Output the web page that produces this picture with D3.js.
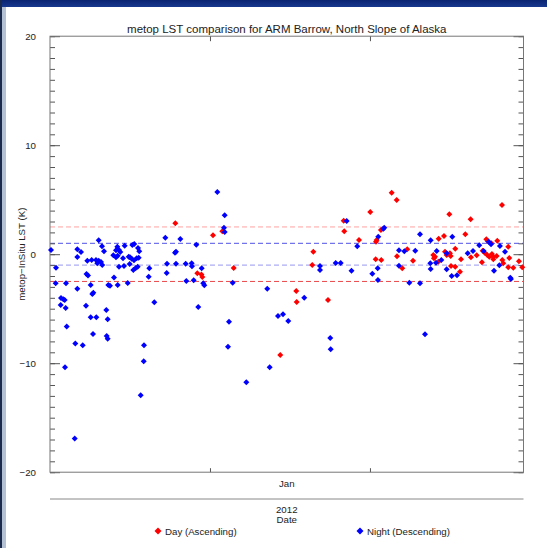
<!DOCTYPE html>
<html>
<head>
<meta charset="utf-8">
<script src="https://cdn.jsdelivr.net/npm/d3@7"></script>
<style>
  html, body { margin: 0; padding: 0; background: #fff; }
  svg { display: block; }
  text { font-family: "Liberation Sans", Arial, sans-serif; fill: #222; }
</style>
</head>
<body>
<svg id="chart" width="547" height="548"></svg>
<script>
// Title and axis text
const titleText = "metop LST comparison for ARM Barrow, North Slope of Alaska";
const yAxisTitle = "metop\u2212InSitu LST (K)";
const xAxisTitle = "Date";
const monthLabel = "Jan";
const yearLabel = "2012";
const seriesNames = ["Day (Ascending)", "Night (Descending)"];
const seriesColors = ["#ff0000", "#0000ff"];

// Time axis: days counted from 1 Dec 2011 (UTC)
const periodStart = Date.UTC(2011, 11, 1);
const periodLengthDays = 91.75;
const monthTicks = [new Date(Date.UTC(2012, 0, 1)), new Date(Date.UTC(2012, 1, 1))];

// Y axis
const yDomain = [-20, 20];
const yMajorTicks = [-20, -10, 0, 10, 20];
const yMinorTicks = d3.range(-20, 21, 1);

// Reference bands (K) and their line colours
const refLevels = [2.5, 1, -1, -2.5];
const refColors = ["#ffa0a0", "#5050e8", "#9898f0", "#e84848"];

// Daytime (ascending) overpasses: day offset, LST difference (K)
const dayDays = [24.28, 28.54, 29.35, 29.51, 31.58, 33.39, 35.59, 44.62, 47.72, 47.80,
  51.02, 50.82, 53.87, 56.91, 57.02, 59.87, 62.06, 63.30, 63.17, 63.11,
  64.19, 64.13, 66.21, 67.18, 67.24, 68.26, 69.23, 70.34, 74.27, 74.60,
  74.40, 75.24, 75.32, 76.34, 76.54, 76.86, 77.50, 77.64, 77.37, 77.70,
  78.53, 78.53, 79.44, 79.64, 80.47, 81.51, 81.57, 82.68, 83.70, 83.84,
  84.23, 84.54, 84.81, 84.73, 85.12, 85.64, 85.51, 85.90, 86.55, 85.90,
  86.67, 87.58, 87.64, 87.83, 88.80, 88.99, 88.80, 89.77, 90.87, 91.51];
const dayDiff = [2.83, -1.75, -1.86, -2.09, 1.73, 2.10, -1.27, -9.25, -3.38, -4.39,
  0.23, -0.99, -4.20, 3.07, 2.10, 1.30, 3.87, 1.30, 1.15, -0.47,
  -0.53, 2.22, 5.64, 4.97, -0.19, -1.29, 0.45, -0.60, -0.07, -0.23,
  -0.38, -0.69, 1.42, 1.67, 0.23, -0.07, 0.08, -0.17, 3.66, -1.08,
  -1.15, 0.50, -1.61, -0.47, 1.83, 3.20, -0.28, -0.10, -0.74, 0.32,
  0.14, 1.37, 1.21, -0.07, -0.23, 0.02, 1.00, -0.23, -0.17, -0.47,
  1.24, 4.51, -0.53, -0.83, 0.69, -0.35, -1.20, -1.24, -0.65, -1.20];

// Night-time (descending) overpasses: day offset, LST difference (K)
const nightDays = [0.19, 1.16, 1.10, 3.10, 2.13, 2.58, 2.85, 2.07, 3.04, 3.24,
  2.91, 4.79, 5.29, 6.01, 5.29, 5.29, 4.90, 6.34, 6.98, 7.07,
  7.36, 7.23, 8.08, 7.89, 8.20, 8.39, 7.89, 8.97, 8.33, 9.44,
  10.08, 10.46, 8.91, 9.44, 9.88, 10.13, 9.16, 11.30, 11.63, 10.91,
  11.18, 10.99, 11.18, 12.40, 13.04, 13.37, 12.79, 13.62, 12.27, 12.79,
  13.12, 14.14, 13.37, 14.34, 13.12, 14.47, 15.25, 15.50, 15.83, 15.44,
  15.95, 16.33, 17.05, 17.30, 16.28, 16.80, 17.19, 16.14, 16.61, 16.99,
  15.06, 19.24, 19.12, 17.57, 18.21, 18.16, 20.21, 22.34, 22.67, 22.61,
  24.22, 24.41, 24.41, 25.25, 26.29, 27.46, 27.51, 26.41, 27.84, 28.35,
  29.39, 29.70, 29.90, 28.73, 32.42, 33.85, 33.71, 33.85, 34.68, 34.49,
  35.40, 38.04, 42.10, 42.57, 44.18, 45.15, 46.17, 49.27, 52.32, 52.32,
  54.31, 54.39, 55.36, 56.33, 57.49, 58.42, 59.54, 64.58, 64.77, 63.61,
  62.45, 63.50, 63.55, 67.62, 68.65, 67.62, 69.62, 70.78, 71.69, 71.69,
  72.66, 73.76, 73.69, 73.76, 74.79, 74.93, 75.82, 76.86, 76.86, 77.83,
  78.86, 77.95, 80.93, 81.96, 83.18, 84.03, 85.00, 85.45, 86.03, 87.19,
  87.06, 88.16, 89.19, 89.32];
const nightDiff = [0.39, -1.24, -2.67, -2.67, -4.02, -4.14, -4.20, -4.66, -4.94, -6.63,
  -10.38, -16.91, 0.45, 0.20, -0.26, -3.17, -8.20, -8.36, -4.72, -1.82,
  -1.95, -0.60, -0.53, -2.83, -3.65, -3.53, -5.79, -5.79, -7.32, 1.28,
  0.72, 0.27, -0.53, -0.60, -0.72, -0.99, -0.83, -2.83, -2.89, -5.12,
  -5.97, -7.50, -7.75, -2.14, 0.69, 0.39, 0.36, 0.20, -0.10, -0.28,
  -0.14, -0.38, -1.15, -1.08, -2.83, 0.78, -0.23, -0.28, -0.41, -0.90,
  0.84, 0.94, 0.57, 0.27, -0.56, -0.38, -0.32, -1.45, -1.27, -1.15,
  -2.64, -1.29, -2.06, -12.94, -8.36, -9.83, -4.41, 1.51, -0.87, -1.72,
  0.14, 0.23, -0.87, 1.39, -0.87, -0.83, -1.11, -2.46, -2.39, 0.87,
  -1.29, -2.67, -2.85, -4.84, 5.71, 3.57, 2.43, 2.04, -6.19, -8.49,
  -2.61, -11.75, -3.17, -10.38, -5.67, -5.50, -6.13, -3.99, -1.08, -1.45,
  -7.69, -8.72, -0.81, -0.81, 3.05, -1.51, 0.72, 2.34, 2.43, 1.61,
  -1.79, -1.29, -2.37, 0.36, 0.27, -1.06, -2.61, 0.32, 1.83, -2.67,
  -7.35, 1.28, -0.83, -1.36, -0.78, 0.29, -0.53, -1.39, 0.08, -2.00,
  -1.94, 1.61, 0.08, 0.29, 0.82, 0.29, 1.15, 0.91, -1.51, 0.75,
  -1.02, 0.23, -2.16, -2.28];

const toDate = d => new Date(periodStart + d * 864e5);

const svg = d3.select("#chart");

// Window chrome around the plot
const chrome = svg.append("defs").append("linearGradient")
  .attr("id", "barGrad").attr("x1", 0).attr("y1", 0).attr("x2", 0).attr("y2", 1);
chrome.append("stop").attr("offset", "0%").attr("stop-color", "#0a2470");
chrome.append("stop").attr("offset", "100%").attr("stop-color", "#17388f");
svg.append("rect").attr("x", 0).attr("y", 0).attr("width", 547).attr("height", 7).attr("fill", "url(#barGrad)");
svg.append("rect").attr("x", 0).attr("y", 0).attr("width", 2).attr("height", 548).attr("fill", "#1b2b4e");
svg.append("rect").attr("x", 2).attr("y", 7).attr("width", 4).attr("height", 541).attr("fill", "#b4c0d4");

const plot = { left: 50, right: 523.5, top: 36.2, bottom: 472.2 };

const x = d3.scaleTime()
  .domain([toDate(0), toDate(periodLengthDays)])
  .range([plot.left, plot.right]);
const y = d3.scaleLinear().domain(yDomain).range([plot.bottom, plot.top]);

// Title
svg.append("text")
  .attr("x", (plot.left + plot.right) / 2).attr("y", 32.5)
  .attr("text-anchor", "middle").style("font-size", "11.5px")
  .text(titleText);

// Reference dashed lines
svg.append("g").selectAll("line").data(refLevels).join("line")
  .attr("x1", plot.left).attr("x2", plot.right)
  .attr("y1", d => y(d)).attr("y2", d => y(d))
  .attr("stroke", (d, i) => refColors[i]).attr("stroke-width", 1)
  .attr("stroke-dasharray", "5,3");

// Y axes (left and mirrored right), minor every 1 K, major every 10 K
const leftMinor = d3.axisLeft(y).tickValues(yMinorTicks).tickSize(-5).tickFormat("");
const leftMajor = d3.axisLeft(y).tickValues(yMajorTicks).tickSize(-10).tickPadding(14)
  .tickFormat(d => d < 0 ? "\u2212" + Math.abs(d) : d);
const rightMinor = d3.axisRight(y).tickValues(yMinorTicks).tickSize(-5).tickFormat("");
const rightMajor = d3.axisRight(y).tickValues(yMajorTicks).tickSize(-10).tickFormat("");

function styleAxis(g) {
  g.select(".domain").remove();
  g.selectAll(".tick line").attr("stroke", "#555");
  g.selectAll(".tick text").style("font-size", "9.7px").attr("fill", "#222")
    .style("font-family", "'Liberation Sans', Arial, sans-serif");
}
svg.append("g").attr("transform", `translate(${plot.left},0)`).call(leftMinor).call(styleAxis);
svg.append("g").attr("transform", `translate(${plot.left},0)`).call(leftMajor).call(styleAxis);
svg.append("g").attr("transform", `translate(${plot.right},0)`).call(rightMinor).call(styleAxis);
svg.append("g").attr("transform", `translate(${plot.right},0)`).call(rightMajor).call(styleAxis);

// X axes: month boundaries on bottom and top
const xBottom = d3.axisBottom(x).tickValues(monthTicks).tickSize(-4).tickFormat("");
const xTop = d3.axisTop(x).tickValues(monthTicks).tickSize(-5).tickFormat("");
svg.append("g").attr("transform", `translate(0,${plot.bottom})`).call(xBottom).call(styleAxis);
svg.append("g").attr("transform", `translate(0,${plot.top})`).call(xTop).call(styleAxis);

// Plot frame
svg.append("rect")
  .attr("x", plot.left).attr("y", plot.top)
  .attr("width", plot.right - plot.left).attr("height", plot.bottom - plot.top)
  .attr("fill", "none").attr("stroke", "#777").attr("stroke-width", 1);

// Month and year labels
const xMid = (plot.left + plot.right) / 2;
svg.append("text").attr("x", xMid).attr("y", 487).attr("text-anchor", "middle")
  .style("font-size", "9.7px").text(monthLabel);
svg.append("line").attr("x1", plot.left).attr("x2", plot.right)
  .attr("y1", 499).attr("y2", 499).attr("stroke", "#888").attr("stroke-width", 1);
svg.append("text").attr("x", xMid).attr("y", 512.5).attr("text-anchor", "middle")
  .style("font-size", "9.7px").text(yearLabel);
svg.append("text").attr("x", xMid).attr("y", 522.5).attr("text-anchor", "middle")
  .style("font-size", "9.7px").text(xAxisTitle);

// Y axis title
svg.append("text")
  .attr("transform", `translate(24.5,${y(0)}) rotate(-90)`)
  .attr("text-anchor", "middle").style("font-size", "9.7px")
  .text(yAxisTitle);

// Diamond marker
const diamond = r => `M0,${-r}L${r},0L0,${r}L${-r},0Z`;

const dayPts = dayDays.map((d, i) => ({ t: toDate(d), v: dayDiff[i] }));
const nightPts = nightDays.map((d, i) => ({ t: toDate(d), v: nightDiff[i] }));

svg.append("g").selectAll("path").data(dayPts).join("path")
  .attr("d", diamond(3))
  .attr("transform", p => `translate(${x(p.t)},${y(p.v)})`)
  .attr("fill", seriesColors[0]);
svg.append("g").selectAll("path").data(nightPts).join("path")
  .attr("d", diamond(3))
  .attr("transform", p => `translate(${x(p.t)},${y(p.v)})`)
  .attr("fill", seriesColors[1]);

// Legend
const legendItems = [{ x: 158, name: seriesNames[0], color: seriesColors[0] },
                     { x: 360, name: seriesNames[1], color: seriesColors[1] }];
const lg = svg.append("g").selectAll("g").data(legendItems).join("g")
  .attr("transform", d => `translate(${d.x},531)`);
lg.append("path").attr("d", diamond(3.5)).attr("fill", d => d.color);
lg.append("text").attr("x", 7).attr("y", 3.6).style("font-size", "9.7px").text(d => d.name);
</script>
</body>
</html>
